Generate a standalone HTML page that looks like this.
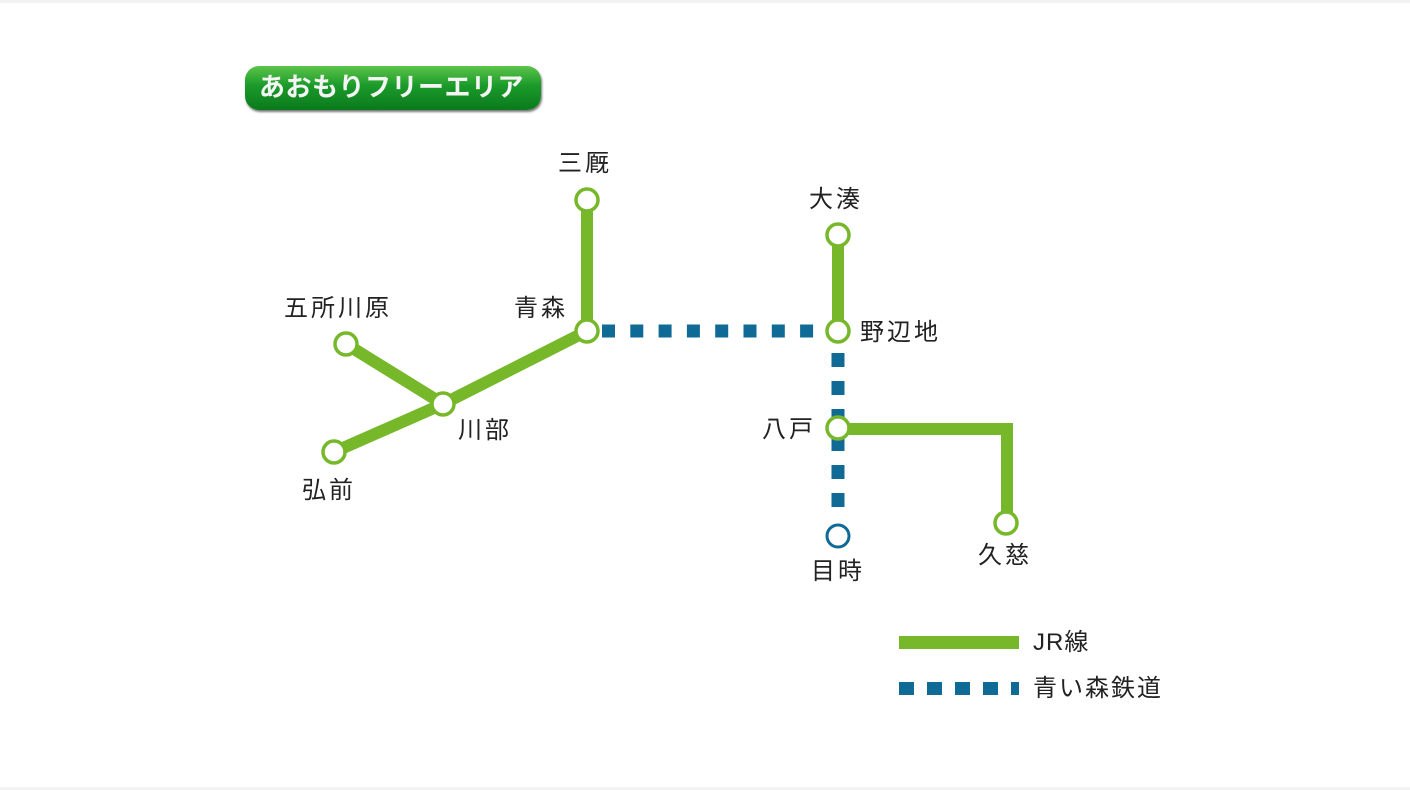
<!DOCTYPE html>
<html><head><meta charset="utf-8"><style>
html,body{margin:0;padding:0;background:#fff;}
body{width:1410px;height:790px;position:relative;overflow:hidden;font-family:"Liberation Sans","Noto Sans CJK JP",sans-serif;}
.bar{position:absolute;left:0;width:1410px;height:3px;background:#f2f2f2;}
.t{position:absolute;font-size:24px;letter-spacing:3px;color:#222;white-space:nowrap;line-height:1;}
</style></head><body>
<div class="bar" style="top:0"></div>
<div class="bar" style="top:787px"></div>
<div style="position:absolute;left:245px;top:66px;width:296px;height:44px;border-radius:14px;background:linear-gradient(#5cc44a,#1a9a2a 45%,#0b7a1c);box-shadow:1px 2px 2px #777;"></div>
<div class="t" style="left:259px;top:74px;font-size:26px;font-weight:bold;color:#f4f4f4;letter-spacing:0.5px;">あおもりフリーエリア</div>
<svg width="1410" height="790" style="position:absolute;left:0;top:0">
<g stroke="#0f6a96" stroke-width="13" fill="none">
<line x1="602" y1="331" x2="826" y2="331" stroke-dasharray="13 15.3"/>
<line x1="838" y1="353" x2="838" y2="509" stroke-dasharray="14 14"/>
<line x1="899" y1="688.5" x2="1019" y2="688.5" stroke-dasharray="15 13"/>
</g>
<g stroke="#76b82a" stroke-width="12" fill="none" stroke-linejoin="miter">
<line x1="587" y1="200" x2="587" y2="331"/>
<line x1="587" y1="331" x2="443" y2="404"/>
<line x1="443" y1="404" x2="346" y2="344"/>
<line x1="443" y1="404" x2="334" y2="452"/>
<line x1="838" y1="235" x2="838" y2="331"/>
<polyline points="838,429 1007,429 1007,523"/>
<line x1="899" y1="642.5" x2="1019" y2="642.5" stroke-width="13"/>
</g>
<g fill="#fff" stroke="#76b82a" stroke-width="3.5">
<circle cx="587" cy="200" r="11"/><circle cx="587" cy="331" r="11"/>
<circle cx="443" cy="404" r="11"/><circle cx="346" cy="344" r="11"/>
<circle cx="334" cy="452" r="11"/><circle cx="838" cy="235" r="11"/>
<circle cx="838" cy="331" r="11"/><circle cx="838" cy="428" r="11"/>
<circle cx="1006" cy="523" r="11"/>
</g>
<circle cx="838" cy="536" r="11" fill="#fff" stroke="#0f6a96" stroke-width="3"/>
</svg>
<div class="t" style="left:558px;top:152px">三厩</div>
<div class="t" style="left:809px;top:188px">大湊</div>
<div class="t" style="left:284px;top:297px">五所川原</div>
<div class="t" style="left:514px;top:297px">青森</div>
<div class="t" style="left:860px;top:321px">野辺地</div>
<div class="t" style="left:458px;top:419px">川部</div>
<div class="t" style="left:762px;top:418px">八戸</div>
<div class="t" style="left:302px;top:479px">弘前</div>
<div class="t" style="left:978px;top:544px">久慈</div>
<div class="t" style="left:811px;top:560px">目時</div>
<div class="t" style="left:1033px;top:631px;letter-spacing:1px">JR線</div>
<div class="t" style="left:1033px;top:677px;letter-spacing:2px">青い森鉄道</div>
</body></html>
